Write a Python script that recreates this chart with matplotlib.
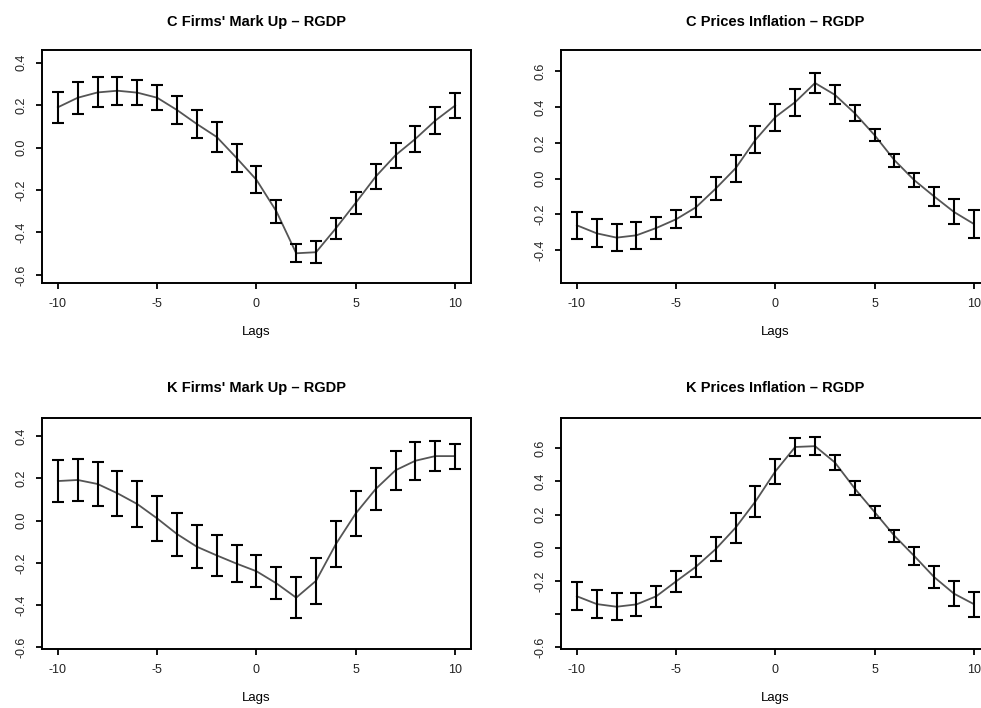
import numpy as np
import matplotlib
matplotlib.use('Agg')
import matplotlib.pyplot as plt

plt.rcParams['font.family'] = ['Liberation Sans', 'DejaVu Sans']

lags = list(range(-10, 11))

# C firms mark up vs RGDP
c_markup = [0.19, 0.235, 0.26, 0.268, 0.259, 0.235, 0.177, 0.111, 0.05, -0.049, -0.152,
            -0.30, -0.498, -0.493, -0.38, -0.26, -0.137, -0.036, 0.041, 0.127, 0.198]
c_markup_err = [0.072, 0.076, 0.071, 0.067, 0.058, 0.058, 0.067, 0.067, 0.071, 0.067, 0.063,
                0.055, 0.042, 0.051, 0.05, 0.053, 0.06, 0.058, 0.06, 0.063, 0.059]

# C prices inflation vs RGDP
c_infl = [-0.262, -0.307, -0.331, -0.318, -0.277, -0.228, -0.161, -0.056, 0.058, 0.217, 0.344,
          0.428, 0.535, 0.469, 0.366, 0.243, 0.103, -0.009, -0.10, -0.187, -0.254]
c_infl_err = [0.075, 0.079, 0.075, 0.075, 0.059, 0.05, 0.055, 0.065, 0.076, 0.076, 0.076,
              0.076, 0.056, 0.054, 0.044, 0.035, 0.036, 0.039, 0.054, 0.07, 0.08]

# K firms mark up vs RGDP
k_markup = [0.187, 0.192, 0.173, 0.129, 0.078, 0.01, -0.064, -0.124, -0.165, -0.204, -0.24,
            -0.297, -0.365, -0.285, -0.111, 0.034, 0.149, 0.238, 0.283, 0.305, 0.305]
k_markup_err = [0.098, 0.10, 0.106, 0.106, 0.11, 0.106, 0.102, 0.101, 0.097, 0.086, 0.076,
                0.076, 0.098, 0.11, 0.109, 0.106, 0.101, 0.092, 0.089, 0.072, 0.059]

# K prices inflation vs RGDP
k_infl = [-0.292, -0.339, -0.355, -0.341, -0.292, -0.202, -0.114, -0.007, 0.122, 0.28, 0.461,
          0.608, 0.613, 0.515, 0.358, 0.216, 0.073, -0.049, -0.176, -0.276, -0.339]
k_infl_err = [0.084, 0.085, 0.08, 0.069, 0.064, 0.064, 0.064, 0.074, 0.09, 0.094, 0.075,
              0.054, 0.054, 0.047, 0.042, 0.036, 0.037, 0.052, 0.065, 0.075, 0.075]

titles = ["C Firms' Mark Up \u2013 RGDP", "C Prices Inflation \u2013 RGDP",
          "K Firms' Mark Up \u2013 RGDP", "K Prices Inflation \u2013 RGDP"]
xticks = [-10, -5, 0, 5, 10]
yticks_all = [[0.4, 0.2, 0.0, -0.2, -0.4, -0.6],
              [0.6, 0.4, 0.2, 0.0, -0.2, -0.4],
              [0.4, 0.2, 0.0, -0.2, -0.4, -0.6],
              [0.6, 0.4, 0.2, 0.0, -0.2, -0.4, -0.6]]
ylabels_all = [['0.4', '0.2', '0.0', '-0.2', '-0.4', '-0.6'],
               ['0.6', '0.4', '0.2', '0.0', '-0.2', '-0.4'],
               ['0.4', '0.2', '0.0', '-0.2', '-0.4', '-0.6'],
               ['0.6', '0.4', '0.2', '0.0', '-0.2', '', '-0.6']]
ylims = [(-0.638, 0.46), (-0.585, 0.72), (-0.608, 0.484), (-0.61, 0.781)]

series = [(c_markup, c_markup_err), (c_infl, c_infl_err),
          (k_markup, k_markup_err), (k_infl, k_infl_err)]

# axes boxes in figure fractions (right column runs off the page like the original)
boxes = [[0.0428, 0.6003, 0.4373, 0.3291],
         [0.5719, 0.6003, 0.4369, 0.3291],
         [0.0428, 0.0833, 0.4373, 0.3259],
         [0.5719, 0.0833, 0.4369, 0.3259]]

fig = plt.figure(figsize=(9.81, 7.08), dpi=100)
for i in range(4):
    ax = fig.add_axes(boxes[i])
    vals, errs = series[i]
    ax.plot(lags, vals, color='#555555', lw=1.3, zorder=2)
    ax.errorbar(lags, vals, yerr=errs, fmt='none', ecolor='black', elinewidth=1.5,
                capsize=4.3, capthick=1.5, zorder=3)
    ax.set_xlim(-10.8, 10.8)
    ax.set_ylim(ylims[i])
    ax.set_xticks(xticks)
    ax.set_xticklabels([str(t) for t in xticks])
    ax.set_yticks(yticks_all[i])
    ax.set_yticklabels(ylabels_all[i], rotation=90, va='center')
    ax.tick_params(direction='out', length=4.5, width=1.3, labelsize=9, pad=6,
                   labelcolor='#222222')
    for s in ax.spines.values():
        s.set_linewidth(1.4)
    ax.set_title(titles[i], fontsize=10.5, fontweight='bold', pad=17 if i < 2 else 19)
    ax.set_xlabel('Lags', fontsize=9.5, labelpad=12)

plt.savefig('out.png', dpi=100)
